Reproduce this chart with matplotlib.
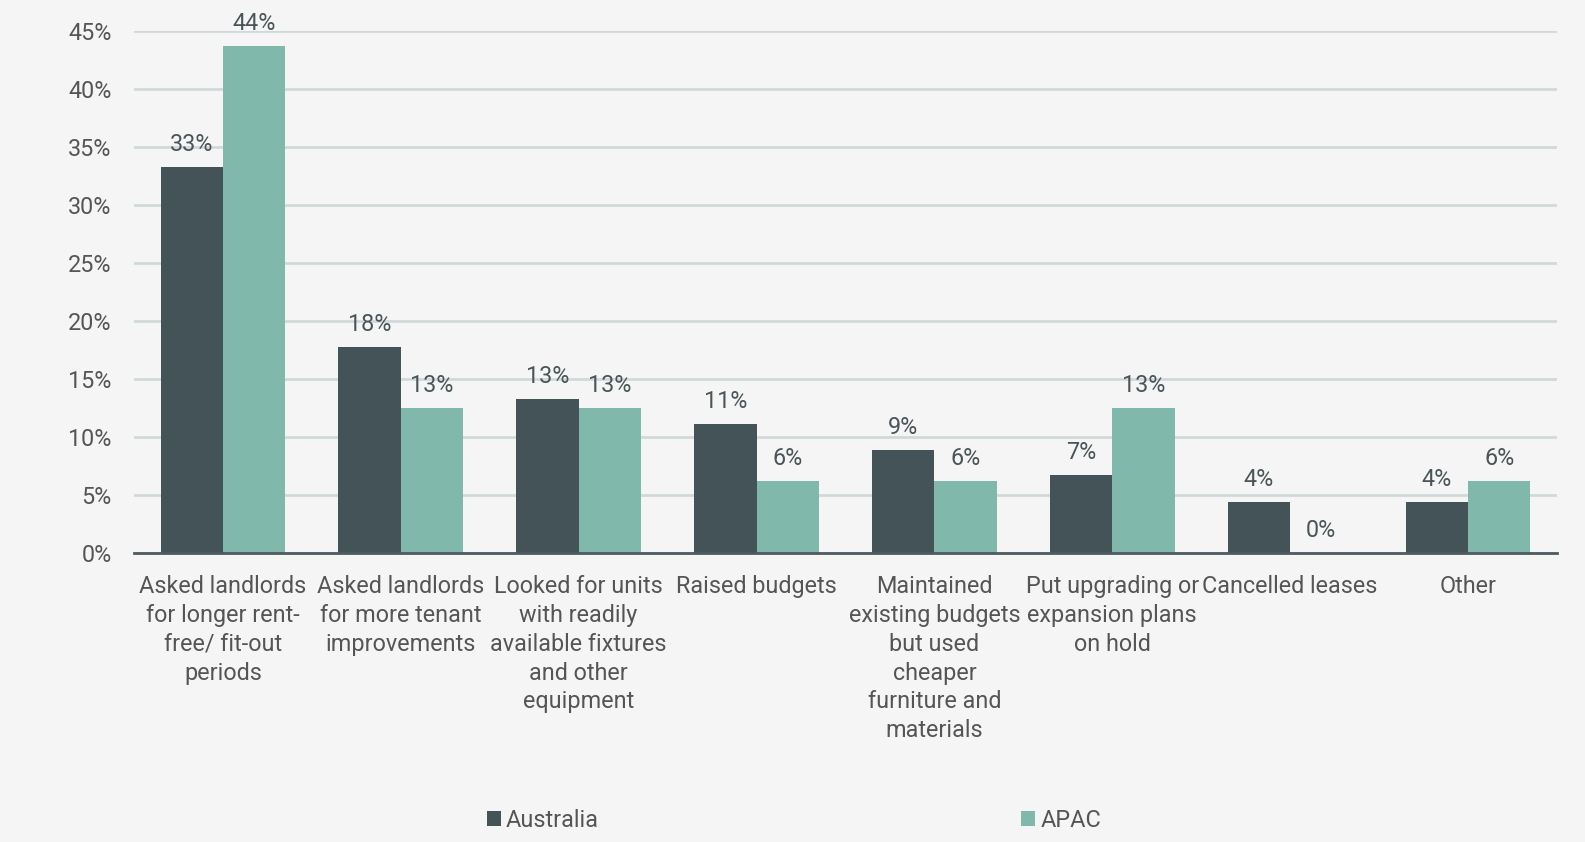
import numpy as np
import matplotlib.pyplot as plt
from matplotlib.ticker import FuncFormatter

# response categories
categories = [
    "Asked landlords\nfor longer rent-\nfree/ fit-out\nperiods",
    "Asked landlords\nfor more tenant\nimprovements",
    "Looked for units\nwith readily\navailable fixtures\nand other\nequipment",
    "Raised budgets",
    "Maintained\nexisting budgets\nbut used\ncheaper\nfurniture and\nmaterials",
    "Put upgrading or\nexpansion plans\non hold",
    "Cancelled leases",
    "Other",
]

# share of respondents, %
australia = [33.3, 17.8, 13.3, 11.1, 8.9, 6.7, 4.4, 4.4]
apac = [43.75, 12.5, 12.5, 6.25, 6.25, 12.5, 0.0, 6.25]

yticks = [0, 5, 10, 15, 20, 25, 30, 35, 40, 45]

bg = '#f5f5f5'
dark = '#435357'
light = '#80b9ab'
text_col = '#555555'
fs = 16.8

plt.rcParams['font.family'] = ['Roboto', 'DejaVu Sans']

fig = plt.figure(figsize=(15.85, 8.42), dpi=100, facecolor=bg)
ax = fig.add_axes([0.0845, 0.343, 0.8978, 0.6198], facecolor=bg)

x = np.arange(len(categories))
w = 0.35

b1 = ax.bar(x - w/2, australia, w, color=dark, label='Australia', zorder=3)
b2 = ax.bar(x + w/2, apac, w, color=light, label='APAC', zorder=3)

# value labels, rounded half up
for bars, vals in ((b1, australia), (b2, apac)):
    for rect, v in zip(bars, vals):
        ax.text(rect.get_x() + rect.get_width()/2, v + 0.95, f'{int(v + 0.5)}%',
                ha='center', va='bottom', fontsize=fs, color='#4a5558', zorder=4)

ax.set_xlim(-0.5, len(categories) - 0.5)
ax.set_ylim(0, 45)
ax.set_yticks(yticks)
ax.yaxis.set_major_formatter(FuncFormatter(lambda v, p: f'{v:.0f}%'))
ax.set_xticks(x)
ax.set_xticklabels(categories, linespacing=1.33)

ax.grid(axis='y', color='#d0d9d9', linewidth=2, zorder=0)
for s in ('top', 'right', 'left'):
    ax.spines[s].set_visible(False)
ax.spines['bottom'].set_color('#4d5b5e')
ax.spines['bottom'].set_linewidth(2)
ax.spines['bottom'].set_zorder(5)

ax.tick_params(axis='both', length=0, labelsize=fs, labelcolor=text_col)
ax.tick_params(axis='y', pad=16)
ax.tick_params(axis='x', pad=15.5)

fig.legend(handles=[b1, b2], loc='center', bbox_to_anchor=(0.501, 0.026),
           ncol=2, frameon=False, fontsize=fs, labelcolor=text_col,
           handlelength=0.6, handleheight=0.65, handletextpad=0.22,
           columnspacing=18.1)

fig.savefig('out.png', dpi=100, facecolor=bg)
